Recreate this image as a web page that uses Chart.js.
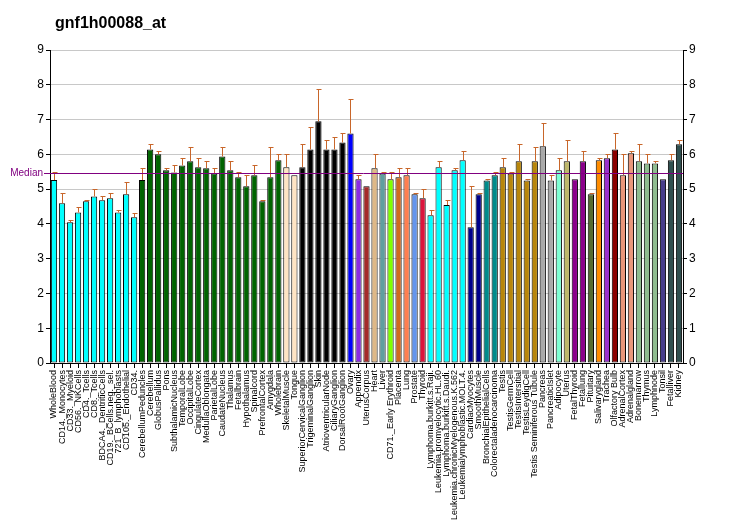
<!DOCTYPE html>
<html>
<head>
    <title>gnf1h00088_at</title>
    <script src="https://cdn.jsdelivr.net/npm/chart.js"></script>
    <style>
        body { margin: 0; background: #fff; }
        #wrap { width: 732px; height: 530px; }
    </style>
</head>
<body>
<div id="wrap"><canvas id="exprChart" width="732" height="530"></canvas></div>
<script>
    // tissue names, in plotted order
    var tissues = [
        'WholeBlood', 'CD14._Monocytes', 'CD33._Myeloid', 'CD56._NKCells', 'CD4._Tcells', 'CD8._Tcells',
        'BDCA4._DentriticCells', 'CD19._BCells.neg._sel.', '721_B_lymphoblasts', 'CD105._Endothelial', 'CD34.',
        'CerebellumPeduncles', 'Cerebellum', 'GlobusPallidus', 'Pons', 'SubthalamicNucleus', 'TemporalLobe',
        'OccipitalLobe', 'CingulateCortex', 'MedullaOblongata', 'ParietalLobe', 'CaudateNucleus', 'Thalamus',
        'Fetalbrain', 'Hypothalamus', 'Spinalcord', 'PrefrontalCortex', 'Amygdala', 'Wholebrain',
        'SkeletalMuscle', 'Tongue', 'SuperiorCervicalGanglion', 'TrigeminalGanglion', 'Skin',
        'AtrioventricularNode', 'CiliaryGanglion', 'DorsalRootGanglion', 'Ovary', 'Appendix', 'UterusCorpus',
        'Heart', 'Liver', 'CD71._Early Erythroid', 'Placenta', 'Lung', 'Prostate', 'Thyroid',
        'Lymphoma.burkitt.s.Raji.', 'Leukemia.promyelocytic.HL.60', 'Lymphoma.burkitt.s.Daudi.',
        'Leukemia.chronicMyelogenous.K.562', 'Leukemialymphoblastic.MOLT.4.', 'CardiacMyocytes',
        'SmoothMuscle', 'BronchialEpithelialCells', 'Colorectaladenocarcinoma', 'Testis', 'TestisGermCell',
        'TestisIntersitial', 'TestisLeydigCell', 'Testis Seminiferous Tubule', 'Pancreas', 'PancreaticIslet',
        'Adipocyte', 'Uterus', 'FetalThyroid', 'Fetallung', 'Pituitary', 'Salivarygland', 'Trachea',
        'Olfactory Bulb', 'AdrenalCortex', 'Adrenalgland', 'Bonemarrow', 'Thymus', 'Lymphnode', 'Tonsil',
        'Fetalliver', 'Kidney'
    ];

    // expression values (bar heights)
    var expr = [
        5.26, 4.59, 4.05, 4.33, 4.65, 4.79, 4.68, 4.74, 4.33, 4.85, 4.19,
        5.26, 6.14, 6.00, 5.54, 5.48, 5.68, 5.80, 5.63, 5.60, 5.45, 5.94, 5.54, 5.34, 5.08, 5.40, 4.65, 5.34, 5.83,
        5.63, 5.40, 5.63, 6.14, 6.95, 6.14, 6.14, 6.34, 6.60, 5.28, 5.08,
        5.60, 5.45, 5.28, 5.34, 5.40, 4.85, 4.74, 4.25, 5.63, 4.54, 5.54, 5.83, 3.90, 4.85, 5.25, 5.40,
        5.63, 5.45, 5.80, 5.25, 5.80, 6.23, 5.25, 5.54, 5.80, 5.28, 5.80, 4.85, 5.83, 5.89, 6.14, 5.40, 6.03,
        5.80, 5.74, 5.74, 5.28, 5.83, 6.29
    ];

    // upper error bar lengths
    var errUp = [
        0.22, 0.29, 0.06, 0.15, 0.03, 0.21, 0.11, 0.14, 0.06, 0.35, 0.12,
        0.34, 0.15, 0.09, 0.06, 0.20, 0.21, 0.40, 0.26, 0.20, 0.15, 0.26, 0.26, 0.14, 0.32, 0.28, 0.03, 0.86, 0.17,
        0.37, 0.00, 0.66, 0.64, 0.94, 0.26, 0.35, 0.26, 0.98, 0.12, 0.00,
        0.40, 0.03, 0.20, 0.26, 0.20, 0.03, 0.26, 0.14, 0.17, 0.14, 0.06, 0.26, 1.18, 0.03, 0.03, 0.08,
        0.26, 0.03, 0.49, 0.03, 0.40, 0.66, 0.15, 0.35, 0.60, 0.00, 0.29, 0.03, 0.06, 0.11, 0.46, 0.60, 0.06,
        0.49, 0.26, 0.06, 0.00, 0.17, 0.11
    ];

    var barColors = [
        '#00FFFF', '#00FFFF', '#00FFFF', '#00FFFF', '#00FFFF', '#00FFFF', '#00FFFF', '#00FFFF', '#00FFFF', '#00FFFF', '#00FFFF',
        '#006400', '#006400', '#006400', '#006400', '#006400', '#006400', '#006400', '#006400', '#006400',
        '#006400', '#006400', '#006400', '#006400', '#006400', '#006400', '#006400', '#006400', '#006400',
        '#FFE4C4', '#FFE4C4', '#000000', '#000000', '#000000', '#000000', '#000000', '#000000',
        '#0000FF', '#8A2BE2', '#A52A2A', '#DEB887', '#5F9EA0', '#7FFF00', '#D2691E', '#FF7F50', '#6495ED', '#DC143C',
        '#00FFFF', '#00FFFF', '#00FFFF', '#00FFFF', '#00FFFF', '#00008B', '#00008B', '#008B8B', '#008B8B',
        '#B8860B', '#B8860B', '#B8860B', '#B8860B', '#B8860B', '#A9A9A9', '#A9A9A9', '#7FFFD4', '#BDB76B',
        '#8B008B', '#8B008B', '#556B2F', '#FF8C00', '#9932CC', '#8B0000', '#E9967A', '#E9967A',
        '#8FBC8F', '#8FBC8F', '#8FBC8F', '#483D8B', '#2F4F4F', '#2F4F4F'
    ];

    var medianValue = 5.455;
    var chartTitle = 'gnf1h00088_at';

    // error bars, median line and title drawn on top of the bars
    var extras = {
        id: 'extras',
        afterDatasetsDraw: function (chart) {
            var ctx = chart.ctx;
            var xs = chart.scales.x, ys = chart.scales.y;
            var area = chart.chartArea;
            ctx.save();
            ctx.strokeStyle = '#C8662A';
            ctx.lineWidth = 1;
            for (var i = 0; i < expr.length; i++) {
                if (errUp[i] <= 0) continue;
                var x = Math.round(xs.getPixelForValue(i)) + 0.5;
                var y0 = ys.getPixelForValue(expr[i]);
                var y1 = Math.round(ys.getPixelForValue(expr[i] + errUp[i])) + 0.5;
                ctx.beginPath();
                ctx.moveTo(x, y0);
                ctx.lineTo(x, y1);
                ctx.moveTo(x - 2, y1);
                ctx.lineTo(x + 3, y1);
                ctx.stroke();
            }
            var my = Math.round(ys.getPixelForValue(medianValue)) + 0.5;
            ctx.strokeStyle = '#800080';
            ctx.beginPath();
            ctx.moveTo(area.left - 6, my);
            ctx.lineTo(area.right, my);
            ctx.stroke();
            ctx.fillStyle = '#800080';
            ctx.font = '10px "Liberation Sans", Arial, sans-serif';
            ctx.textAlign = 'right';
            ctx.textBaseline = 'middle';
            ctx.fillText('Median', area.left - 7, my);
            ctx.fillStyle = '#000';
            ctx.font = 'bold 16px "Liberation Sans", Arial, sans-serif';
            ctx.textAlign = 'left';
            ctx.textBaseline = 'alphabetic';
            ctx.fillText(chartTitle, 55, 28);
            ctx.restore();
        }
    };

    var tickFont = { family: '"Liberation Sans", Arial, sans-serif', size: 12 };

    new Chart(document.getElementById('exprChart').getContext('2d'), {
        type: 'bar',
        data: {
            labels: tissues,
            datasets: [{
                data: expr,
                backgroundColor: barColors,
                borderColor: '#000000',
                borderWidth: 1,
                borderSkipped: false,
                categoryPercentage: 1.0,
                barPercentage: 0.78
            }]
        },
        options: {
            responsive: false,
            animation: false,
            layout: { padding: { top: 50, left: 0, right: 0, bottom: 0 } },
            plugins: { legend: { display: false }, tooltip: { enabled: false } },
            scales: {
                x: {
                    grid: { display: true, drawOnChartArea: false, offset: false, tickLength: 5, tickColor: '#000' },
                    border: { color: '#000', width: 1 },
                    ticks: {
                        autoSkip: false, maxRotation: 90, minRotation: 90, padding: 2,
                        color: '#000', font: { family: '"Liberation Sans", Arial, sans-serif', size: 9 }
                    },
                    afterFit: function (s) { s.height = 167; }
                },
                y: {
                    position: 'left', min: 0, max: 9,
                    ticks: { stepSize: 1, color: '#000', font: tickFont, padding: 2 },
                    grid: { color: '#C8C8C8', tickLength: 4, tickColor: '#000' },
                    border: { color: '#000', width: 1 },
                    afterFit: function (s) { s.width = 50; }
                },
                y2: {
                    position: 'right', min: 0, max: 9,
                    ticks: { stepSize: 1, color: '#000', font: tickFont, padding: 2 },
                    grid: { drawOnChartArea: false, tickLength: 4, tickColor: '#000' },
                    border: { color: '#000', width: 1 },
                    afterFit: function (s) { s.width = 49; }
                }
            }
        },
        plugins: [extras]
    });
</script>
</body>
</html>
